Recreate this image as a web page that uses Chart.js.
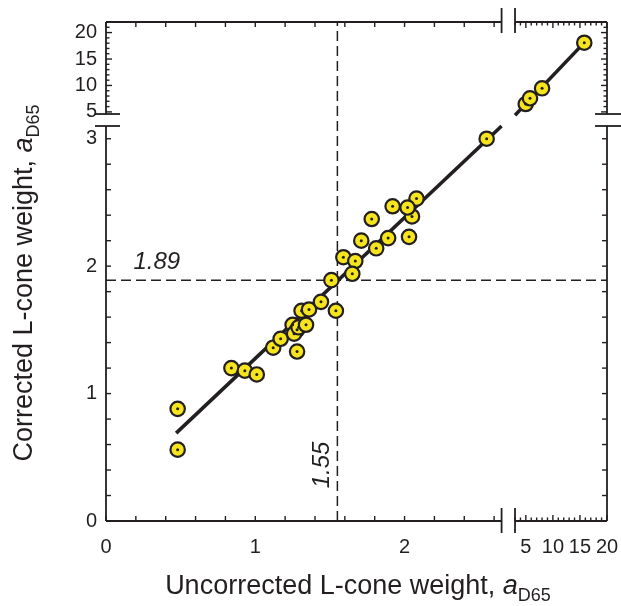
<!DOCTYPE html>
<html>
<head>
<meta charset="utf-8">
<script src="https://cdn.jsdelivr.net/npm/chart.js@4.4.0/dist/chart.umd.min.js"></script>
<style>
html, body { margin: 0; padding: 0; background: #fff; }
#wrap { position: relative; width: 621px; height: 606px; }
#chart { position: absolute; left: 0; top: 0; }
.title { position: absolute; font-family: "Liberation Sans", Arial, sans-serif; font-size: 27px; line-height: 30px; color: #231f20; white-space: nowrap; }
.title sub { font-size: 18px; line-height: 0; vertical-align: -7px; }
#xTitle { left: 0; width: 716px; top: 570px; text-align: center; }
#yTitle { left: -187px; width: 420px; top: 268px; text-align: center; transform: rotate(-90deg); }
</style>
</head>
<body>
<div id="wrap">
  <canvas id="chart" width="621" height="606"></canvas>
  <div class="title" id="xTitle">Uncorrected L-cone weight, <i>a</i><sub>D65</sub></div>
  <div class="title" id="yTitle">Corrected L-cone weight, <i>a</i><sub>D65</sub></div>
</div>
<script>
// observers: uncorrected vs corrected L-cone weight
const uncorrected = [0.48, 0.48, 0.84, 0.93, 1.01, 1.12, 1.17, 1.28, 1.25, 1.28, 1.26, 1.29, 1.34, 1.31, 1.36, 1.44, 1.54, 1.51, 1.59, 1.67, 1.65, 1.71, 1.81, 1.89, 1.78, 1.92, 2.03, 2.05, 2.08, 2.02, 2.55, 4.98, 5.77, 8.0, 15.8];
const corrected = [0.88, 0.56, 1.20, 1.18, 1.15, 1.36, 1.43, 1.33, 1.54, 1.50, 1.47, 1.52, 1.54, 1.65, 1.66, 1.72, 1.65, 1.89, 2.07, 2.04, 1.94, 2.20, 2.14, 2.22, 2.37, 2.47, 2.23, 2.39, 2.53, 2.46, 3.00, 6.49, 7.57, 9.46, 18.08];

// fitted line, drawn in two pieces (either side of the break)
const fitLowX = [0.47, 2.65];
const fitLowY = [0.69, 3.10];
const fitHighX = [3.0, 15.8];
const fitHighY = [4.45, 18.1];

// medians
const medianX = 1.55;
const medianY = 1.89;

// tick labels
const xTickLabels = [0, 1, 2, 5, 10, 15, 20];
const yTickLabels = [0, 1, 2, 3, 5, 10, 15, 20];
const bigTicks = [5, 10, 15, 20];

// tick marks
const xTicksLow = [0, 0.2, 0.4, 0.6, 0.8, 1, 1.2, 1.4, 1.6, 1.8, 2, 2.2, 2.4, 2.6];
const xTicksHigh = [3, 4, 5, 6, 7, 8, 9, 10, 11, 12, 13, 14, 15, 16, 17, 18, 19, 20];
const yTicksLow = [0, 0.2, 0.4, 0.6, 0.8, 1, 1.2, 1.4, 1.6, 1.8, 2, 2.2, 2.4, 2.6, 2.8, 3];
const yTicksHigh = [5, 6, 7, 8, 9, 10, 11, 12, 13, 14, 15, 16, 17, 18, 19, 20, 21, 22];

// broken axes: value range of each piece and the share of the axis it uses
const axisPieces = {
  x: [{ min: 0, max: 2.65, from: 0, to: 0.7896 }, { min: 3, max: 20, from: 0.8164, to: 1 }],
  y: [{ min: 0, max: 3.1, from: 0, to: 0.7916 }, { min: 4.6, max: 22, from: 0.8156, to: 1 }]
};
const axisLabels = { x: xTickLabels, y: yTickLabels };

class BrokenScale extends Chart.LinearScale {
  static id = 'broken';
  buildTicks() {
    this.start = this.min;
    this.end = this.max;
    return axisLabels[this.id].map(v => ({ value: v }));
  }
  toDecimal(v) {
    const [a, b] = axisPieces[this.id];
    if (v <= a.max) return a.from + (v - a.min) / (a.max - a.min) * (a.to - a.from);
    if (v >= b.min) return b.from + (v - b.min) / (b.max - b.min) * (b.to - b.from);
    return a.to + (v - a.max) / (b.min - a.max) * (b.from - a.to);
  }
  getPixelForValue(v) {
    return v == null ? NaN : this.getPixelForDecimal(this.toDecimal(v));
  }
  getValueForPixel(p) {
    const d = this.getDecimalForPixel(p);
    const [a, b] = axisPieces[this.id];
    if (d <= a.to) return a.min + (d - a.from) / (a.to - a.from) * (a.max - a.min);
    if (d >= b.from) return b.min + (d - b.from) / (b.to - b.from) * (b.max - b.min);
    return a.max + (d - a.to) / (b.from - a.to) * (b.min - a.max);
  }
}
Chart.register(BrokenScale);

const ink = '#231f20';
const tickFont = { family: '"Liberation Sans", Arial, sans-serif', size: 20 };

const framePlugin = {
  id: 'frame',
  afterDatasetsDraw(chart) {
    const { ctx, scales: { x, y } } = chart;
    const [xa, xb] = axisPieces.x, [ya, yb] = axisPieces.y;
    const L = x.getPixelForValue(xa.min), R = x.getPixelForValue(xb.max);
    const B = y.getPixelForValue(ya.min), T = y.getPixelForValue(yb.max);
    const xGap = [x.getPixelForValue(xa.max), x.getPixelForValue(xb.min)];
    const yGap = [y.getPixelForValue(ya.max), y.getPixelForValue(yb.min)];

    ctx.save();
    ctx.strokeStyle = ink;
    ctx.lineWidth = 1.8;
    const seg = (x1, y1, x2, y2) => { ctx.beginPath(); ctx.moveTo(x1, y1); ctx.lineTo(x2, y2); ctx.stroke(); };

    // box, interrupted at the breaks
    seg(L, B, xGap[0], B); seg(xGap[1], B, R, B);
    seg(L, T, xGap[0], T); seg(xGap[1], T, R, T);
    seg(L, B, L, yGap[0]); seg(L, yGap[1], L, T);
    seg(R, B, R, yGap[0]); seg(R, yGap[1], R, T);

    // inward ticks on all four sides
    ctx.lineWidth = 1.4;
    xTicksLow.forEach(v => { const p = x.getPixelForValue(v); seg(p, B, p, B - 5); seg(p, T, p, T + 5); });
    xTicksHigh.forEach(v => { const p = x.getPixelForValue(v), n = bigTicks.includes(v) ? 6 : 3.5; seg(p, B, p, B - n); seg(p, T, p, T + n); });
    yTicksLow.forEach(v => { const p = y.getPixelForValue(v); seg(L, p, L + 5, p); seg(R, p, R - 5, p); });
    yTicksHigh.forEach(v => { const p = y.getPixelForValue(v), n = bigTicks.includes(v) ? 6 : 3.5; seg(L, p, L + n, p); seg(R, p, R - n, p); });

    // break marks
    ctx.lineWidth = 1.8;
    xGap.forEach(p => { seg(p, B - 13, p, B + 12); seg(p, T - 14, p, T + 11); });
    yGap.forEach(p => { seg(L - 11, p, L + 14, p); seg(R - 12, p, R + 14, p); });

    // median labels
    ctx.fillStyle = ink;
    ctx.font = 'italic 24px "Liberation Sans", Arial, sans-serif';
    ctx.textAlign = 'center';
    ctx.textBaseline = 'middle';
    ctx.fillText('1.89', x.getPixelForValue(0.34), y.getPixelForValue(2.03));
    ctx.translate(x.getPixelForValue(1.447), y.getPixelForValue(0.44));
    ctx.rotate(-Math.PI / 2);
    ctx.fillText('1.55', 0, 0);
    ctx.restore();
  }
};

const pts = uncorrected.map((v, i) => ({ x: v, y: corrected[i] }));
const pairs = (xs, ys) => xs.map((v, i) => ({ x: v, y: ys[i] }));

new Chart(document.getElementById('chart'), {
  type: 'scatter',
  data: {
    datasets: [
      { data: pts, pointRadius: 1.5, pointBackgroundColor: ink, pointBorderWidth: 0, order: 0 },
      { data: pts, pointRadius: 7.2, pointBackgroundColor: '#f6e51c', pointBorderColor: ink, pointBorderWidth: 2.2, order: 1 },
      { data: pairs(fitLowX, fitLowY), showLine: true, pointRadius: 0, borderColor: ink, borderWidth: 3.6, order: 2 },
      { data: pairs(fitHighX, fitHighY), showLine: true, pointRadius: 0, borderColor: ink, borderWidth: 3.6, order: 2 },
      { data: pairs([medianX, medianX], [0, 22]), showLine: true, pointRadius: 0, borderColor: ink, borderWidth: 1.5, borderDash: [10, 5], order: 3 },
      { data: pairs([0, 20], [medianY, medianY]), showLine: true, pointRadius: 0, borderColor: ink, borderWidth: 1.5, borderDash: [10, 5], order: 3 }
    ]
  },
  options: {
    responsive: false,
    animation: false,
    events: [],
    layout: { padding: { top: 22, right: 14, left: 0, bottom: 0 } },
    plugins: { legend: { display: false }, tooltip: { enabled: false } },
    scales: {
      x: {
        type: 'broken', position: 'bottom', min: 0, max: 20,
        grid: { display: false, drawTicks: false }, border: { display: false },
        ticks: { autoSkip: false, maxRotation: 0, padding: 14, color: ink, font: tickFont, callback: v => String(v) },
        afterFit: s => { s.height = 85; s.paddingLeft = 0; s.paddingRight = 0; }
      },
      y: {
        type: 'broken', position: 'left', min: 0, max: 22,
        grid: { display: false, drawTicks: false }, border: { display: false },
        ticks: { autoSkip: false, padding: 9, color: ink, font: tickFont, callback: v => String(v) },
        afterFit: s => { s.width = 106; s.paddingTop = 0; s.paddingBottom = 0; }
      }
    }
  },
  plugins: [framePlugin]
});
</script>
</body>
</html>
